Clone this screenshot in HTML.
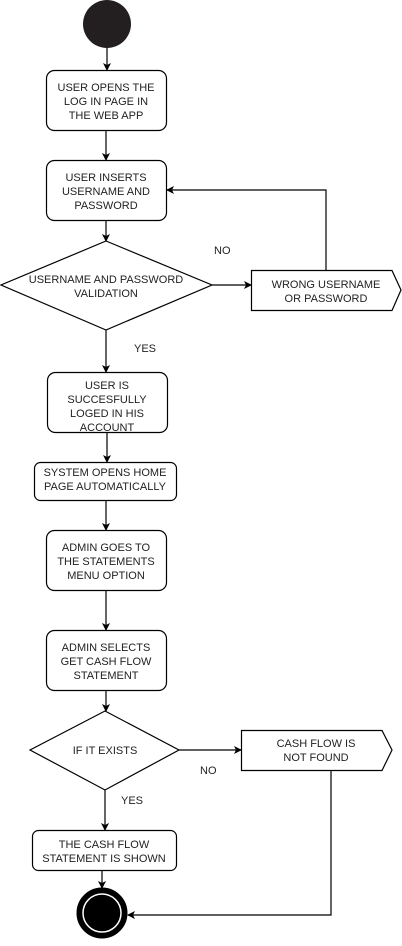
<!DOCTYPE html>
<html><head><style>body{margin:0;background:#fff}</style></head><body>
<svg width="402" height="941" xmlns="http://www.w3.org/2000/svg" font-family="Liberation Sans, sans-serif" font-size="11" fill="#222">
<defs><marker id="a" markerWidth="8" markerHeight="8" refX="7" refY="4" orient="auto" markerUnits="userSpaceOnUse"><path d="M0,0 L8,4 L0,8 L2,4 z" fill="#000"/></marker></defs>
<g stroke="#000" stroke-width="1.2" fill="none">
<circle cx="107" cy="24" r="24" fill="#231f20" stroke="none"/>
<line x1="107" y1="48" x2="107" y2="70" marker-end="url(#a)"/>
<rect x="46.5" y="70.5" width="120" height="60" rx="8" fill="#fff"/>
<line x1="106" y1="130" x2="106" y2="160" marker-end="url(#a)"/>
<rect x="46.5" y="160.5" width="120" height="60" rx="8" fill="#fff"/>
<line x1="106" y1="220" x2="106" y2="241" marker-end="url(#a)"/>
<polygon points="106,241 212,285 106,330 1,285" fill="#fff"/>
<line x1="212" y1="285" x2="251" y2="285" marker-end="url(#a)"/>
<polygon points="251.5,270.5 392,270.5 401,290 392,310.5 251.5,310.5" fill="#fff"/>
<polyline points="326,270 326,190 167,190" marker-end="url(#a)"/>
<line x1="106" y1="330" x2="106" y2="372" marker-end="url(#a)"/>
<rect x="47.5" y="372.5" width="120" height="60" rx="8" fill="#fff"/>
<line x1="107" y1="432" x2="107" y2="462" marker-end="url(#a)"/>
<rect x="34.5" y="462.5" width="142" height="38" rx="6" fill="#fff"/>
<line x1="106" y1="500" x2="106" y2="530" marker-end="url(#a)"/>
<rect x="46.5" y="530.5" width="120" height="60" rx="8" fill="#fff"/>
<line x1="106" y1="590" x2="106" y2="630" marker-end="url(#a)"/>
<rect x="46.5" y="630.5" width="120" height="60" rx="8" fill="#fff"/>
<line x1="106" y1="690" x2="106" y2="711" marker-end="url(#a)"/>
<polygon points="105,711 179,750 105,790 30,750" fill="#fff"/>
<line x1="179" y1="750" x2="241" y2="750" marker-end="url(#a)"/>
<polygon points="241.5,730.5 382,730.5 392,750 382,770.5 241.5,770.5" fill="#fff"/>
<line x1="105" y1="790" x2="105" y2="830" marker-end="url(#a)"/>
<rect x="32.5" y="830.5" width="144" height="40" rx="6" fill="#fff"/>
<line x1="102" y1="870" x2="102" y2="888" marker-end="url(#a)"/>
<polyline points="331,770 331,915 128,915" marker-end="url(#a)"/>
<circle cx="102" cy="913" r="24" fill="#000" stroke="#000" stroke-width="3"/>
<circle cx="102" cy="913" r="19" fill="#000" stroke="#fff" stroke-width="1.5"/>
</g>
<g text-anchor="middle">
<text x="106" y="91">USER OPENS THE</text><text x="106" y="105">LOG IN PAGE IN</text><text x="106" y="119">THE WEB APP</text>
<text x="106" y="181">USER INSERTS</text><text x="106" y="195">USERNAME AND</text><text x="106" y="209">PASSWORD</text>
<text x="106" y="283">USERNAME AND PASSWORD</text><text x="106" y="297">VALIDATION</text>
<text x="326" y="288">WRONG USERNAME</text><text x="326" y="302">OR PASSWORD</text>
<text x="107" y="389">USER IS</text><text x="107" y="403">SUCCESFULLY</text><text x="107" y="417">LOGED IN HIS</text><text x="107" y="431">ACCOUNT</text>
<text x="105" y="476">SYSTEM OPENS HOME</text><text x="105" y="490">PAGE AUTOMATICALLY</text>
<text x="106" y="551">ADMIN GOES TO</text><text x="106" y="565">THE STATEMENTS</text><text x="106" y="579">MENU OPTION</text>
<text x="106" y="651">ADMIN SELECTS</text><text x="106" y="665">GET CASH FLOW</text><text x="106" y="679">STATEMENT</text>
<text x="105" y="754">IF IT EXISTS</text>
<text x="316" y="747">CASH FLOW IS</text><text x="316" y="761">NOT FOUND</text>
<text x="104" y="848">THE CASH FLOW</text><text x="104" y="862">STATEMENT IS SHOWN</text>
</g>
<text x="214" y="254">NO</text><text x="134" y="352">YES</text>
<text x="200" y="774">NO</text><text x="121" y="804">YES</text>
</svg>
</body></html>
